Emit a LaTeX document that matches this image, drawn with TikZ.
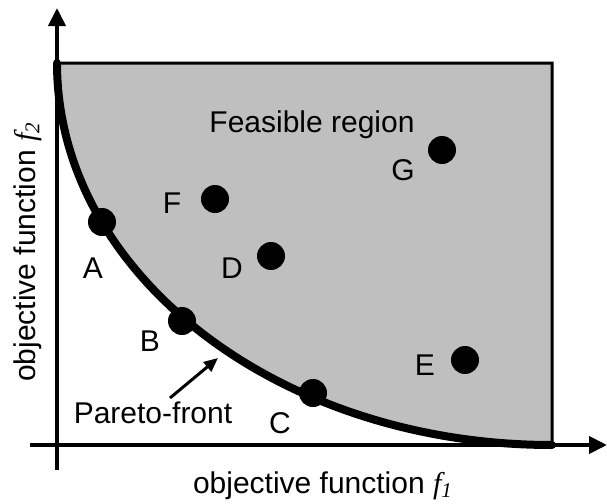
\documentclass[tikz,border=0pt]{standalone}
\usepackage{fontspec}
\setmainfont{Liberation Sans}
\newfontfamily\serifit{Liberation Serif}
\usetikzlibrary{arrows.meta,positioning}

\newcommand{\fobj}[1]{{\serifit\itshape f\textsubscript{#1}}}

\begin{document}
\begin{tikzpicture}[
    x=0.5pt, y=-0.5pt,
    axis/.style={line width=2pt, -{Triangle[width=8.5pt,length=9pt]}},
    region/.style={fill=black!25, draw=black, line width=1.5pt},
    front/.style={line width=4pt, line cap=round},
    pt/.style={circle, fill=black, inner sep=0pt, minimum size=14pt},
    lbl/.style={font=\fontsize{15}{17}\selectfont, inner sep=1pt},
    arr/.style={line width=1.5pt, -{Triangle[width=6pt,length=7pt]}},
  ]
  \useasboundingbox (0,0) rectangle (607,504);

  % feasible region and pareto front
  \draw[region] (57,63) -- (552,63) -- (552,445) arc[start angle=270, end angle=180, x radius=495, y radius=-382] -- cycle;
  \draw[front] (552,445) arc[start angle=270, end angle=180, x radius=495, y radius=-382];

  % axes
  \coordinate (xo) at (30,445);
  \coordinate (xe) at (607,445);
  \coordinate (yo) at (57,470);
  \coordinate (ye) at (57,8);
  \draw[axis] (xo) -- (xe);
  \draw[axis] (yo) -- (ye);

  % points
  \node[pt] (A) at (102,222) {};
  \node[pt] (B) at (182,321) {};
  \node[pt] (C) at (313,393) {};
  \node[pt] (D) at (271,256) {};
  \node[pt] (E) at (465,360) {};
  \node[pt] (F) at (215,199) {};
  \node[pt] (G) at (442,150) {};

  \node[lbl] (lA) at (93,268) {A};
  \node[lbl] (lB) at (150,341) {B};
  \node[lbl] (lC) at (280,423) {C};
  \node[lbl] (lD) at (232,268) {D};
  \node[lbl] (lE) at (425,365) {E};
  \node[lbl] (lF) at (172,203) {F};
  \node[lbl] (lG) at (403,170) {G};

  \node[lbl, anchor=base] (feas) at (312,132) {Feasible region};
  \node[lbl] (pareto) at (153,413) {Pareto-front};
  \coordinate (tail) at (170,398);
  \coordinate (onfront) at (218,358);
  \draw[arr] (tail) -- (onfront);

  % axis labels
  \node[lbl, anchor=base] (xlab) at (323,493) {objective function \fobj{1}};
  \node[lbl, anchor=base, rotate=90] (ylab) at (35,252) {objective function \fobj{2}};
\end{tikzpicture}
\end{document}
